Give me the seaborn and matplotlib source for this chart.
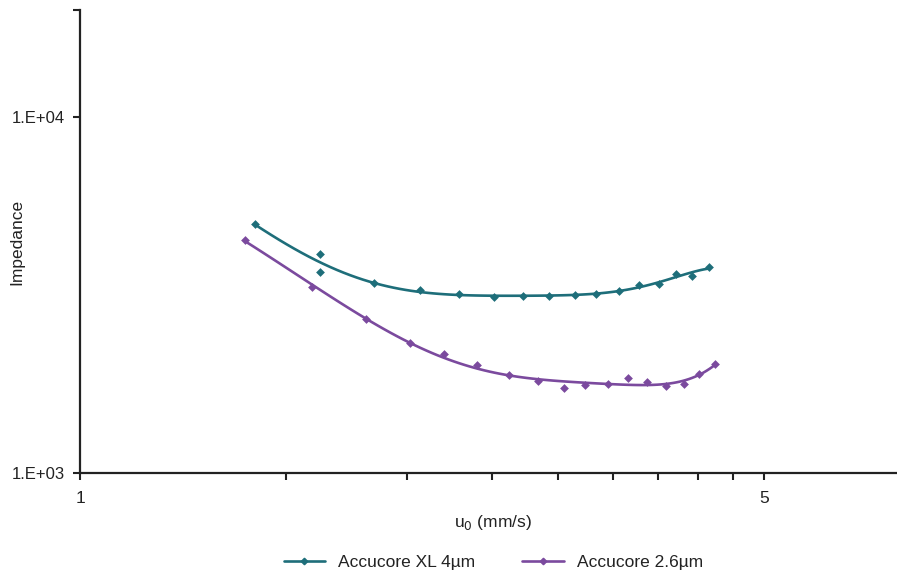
import numpy as np
import pandas as pd
import seaborn as sns
import matplotlib.pyplot as plt
from matplotlib.ticker import FixedLocator, NullFormatter, FixedFormatter

# data
u0_xl = [1.509, 1.757, 1.757, 1.995, 2.223, 2.436, 2.645, 2.831, 3.010,
         3.200, 3.369, 3.548, 3.719, 3.898, 4.066, 4.222, 4.394]
imp_xl = [5005, 4124, 3669, 3418, 3266, 3184, 3122, 3142, 3142,
          3162, 3184, 3245, 3374, 3396, 3622, 3576, 3791]
u0_26 = [1.474, 1.725, 1.958, 2.171, 2.352, 2.542, 2.740, 2.933, 3.118,
         3.276, 3.458, 3.624, 3.798, 3.963, 4.134, 4.292, 4.457]
imp_26 = [4512, 3331, 2708, 2319, 2160, 2011, 1885, 1813, 1733,
          1767, 1778, 1849, 1802, 1756, 1778, 1897, 2024]
labels = ['Accucore XL 4µm', 'Accucore 2.6µm']
colors = ['#1e6e7a', '#7b4a9e']
fit_order = [5, 4]
x_ticks = [1, 5]
y_ticks = [1000, 10000]
y_ticklabels = ['1.E+03', '1.E+04']

sns.set_style('white')
plt.rcParams['font.family'] = ['Liberation Sans', 'DejaVu Sans']

fig = plt.figure(figsize=(8.97, 5.79), dpi=100)
ax = fig.add_axes([80/897, 106/579, 817/897, 463/579])

series = [(u0_xl, imp_xl), (u0_26, imp_26)]
for (x, y), lab, c, o in zip(series, labels, colors, fit_order):
    sns.regplot(x=x, y=y, order=o, ci=None, ax=ax, color=c, marker='D',
                scatter_kws=dict(s=20, linewidths=0, alpha=1),
                line_kws=dict(lw=1.9))
    # proxy for legend
    ax.plot([], [], color=c, lw=1.9, marker='D', ms=3.3, label=lab)

ax.set_xscale('log')
ax.set_yscale('log')
ax.set_xlim(1, 6.83)
ax.set_ylim(1000, 20000)

ax.xaxis.set_major_locator(FixedLocator(x_ticks))
ax.xaxis.set_major_formatter(FixedFormatter(['1', '5']))
ax.xaxis.set_minor_locator(FixedLocator([5 ** np.log10(k) for k in range(2, 10)]))
ax.xaxis.set_minor_formatter(NullFormatter())
ax.yaxis.set_major_locator(FixedLocator(y_ticks + [20000]))
ax.yaxis.set_major_formatter(FixedFormatter(y_ticklabels + ['']))
ax.yaxis.set_minor_locator(FixedLocator([]))

for s in ['top', 'right']:
    ax.spines[s].set_visible(False)
for s in ['left', 'bottom']:
    ax.spines[s].set_linewidth(1.6)
    ax.spines[s].set_color('#222222')
ax.tick_params(which='both', direction='out', length=5, width=1.5,
               bottom=True, left=True,
               color='#222222', labelsize=12, labelcolor='#222222', pad=6)
ax.tick_params(axis='x', which='major', pad=8, labelsize=12.5)

ax.set_xlabel('u$_0$ (mm/s)', fontsize=12.5, color='#222222', va='center')
ax.xaxis.set_label_coords(0.505, -0.106)
ax.set_ylabel('Impedance', fontsize=12.5, color='#222222', va='center')
ax.yaxis.set_label_coords(-0.077, 0.5)

ax.legend(loc='center', bbox_to_anchor=(0.506, -0.194), ncol=2,
          frameon=False, fontsize=12.5, handlelength=2.4, handletextpad=0.75,
          columnspacing=2.7, labelcolor='#222222')

fig.savefig('out.png', dpi=100)
